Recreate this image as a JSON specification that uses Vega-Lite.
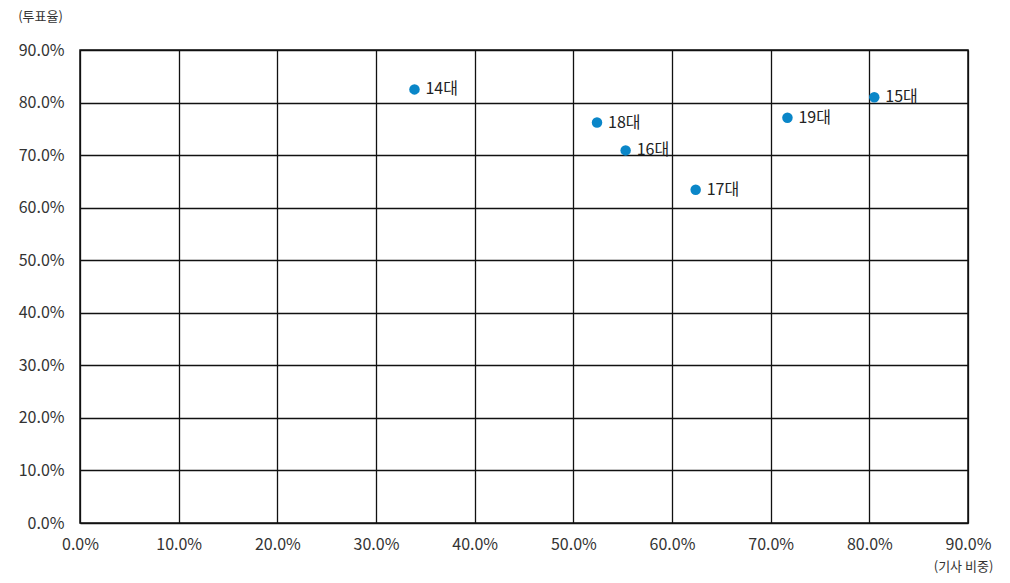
{
  "$schema": "https://vega.github.io/schema/vega-lite/v6.json",
  "width": 888,
  "height": 473,
  "autosize": "none",
  "padding": {"left": 80, "top": 50, "right": 42, "bottom": 60},
  "background": "white",
  "data": {
    "values": [
      {"session": "14대", "share": 0.339, "turnout": 0.825},
      {"session": "15대", "share": 0.805, "turnout": 0.810},
      {"session": "16대", "share": 0.553, "turnout": 0.709},
      {"session": "17대", "share": 0.624, "turnout": 0.634},
      {"session": "18대", "share": 0.524, "turnout": 0.762},
      {"session": "19대", "share": 0.717, "turnout": 0.771}
    ]
  },
  "encoding": {
    "x": {
      "field": "share",
      "type": "quantitative",
      "scale": {"domain": [0, 0.9], "nice": false},
      "axis": {
        "values": [0, 0.1, 0.2, 0.3, 0.4, 0.5, 0.6, 0.7, 0.8, 0.9],
        "format": ".1%",
        "labelFlush": false,
        "labelOverlap": false,
        "title": "(기사 비중)",
        "titleAngle": 0,
        "titleX": 883,
        "titleY": 43,
        "titleAlign": "center",
        "titleBaseline": "middle",
        "titleFontSize": 13,
        "titleFontWeight": "normal",
        "titleColor": "#333",
        "labelPadding": 13
      }
    },
    "y": {
      "field": "turnout",
      "type": "quantitative",
      "scale": {"domain": [0, 0.9], "nice": false},
      "axis": {
        "values": [0, 0.1, 0.2, 0.3, 0.4, 0.5, 0.6, 0.7, 0.8, 0.9],
        "format": ".1%",
        "labelFlush": false,
        "labelOverlap": false,
        "title": "(투표율)",
        "titleAngle": 0,
        "titleX": -40,
        "titleY": -34,
        "titleAlign": "center",
        "titleBaseline": "middle",
        "titleFontSize": 13,
        "titleFontWeight": "normal",
        "titleColor": "#333",
        "labelPadding": 16
      }
    }
  },
  "layer": [
    {
      "mark": {"type": "point", "filled": true, "opacity": 1, "size": 110, "color": "#0a86c8"}
    },
    {
      "mark": {"type": "text", "align": "left", "baseline": "middle", "dx": 11, "fontSize": 16, "color": "#222"},
      "encoding": {"text": {"field": "session"}}
    }
  ],
  "config": {
    "font": "Noto Sans CJK KR",
    "view": {"stroke": "#111", "strokeWidth": 1.5},
    "axis": {
      "grid": true,
      "gridColor": "#111",
      "gridWidth": 1.3,
      "gridOpacity": 1,
      "domain": false,
      "ticks": false,
      "labelFontSize": 16,
      "labelColor": "#333",
      "labelFont": "Noto Sans CJK KR"
    }
  }
}
